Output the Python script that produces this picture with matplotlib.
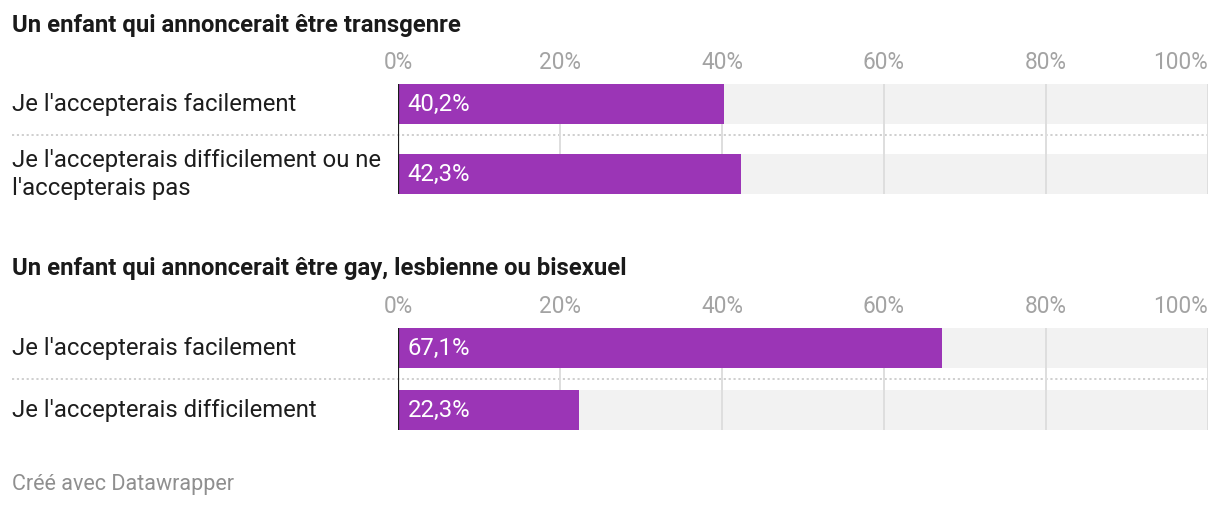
import matplotlib
matplotlib.use("Agg")
import matplotlib.pyplot as plt
from matplotlib.transforms import blended_transform_factory

plt.rcParams['font.family'] = ['Roboto', 'DejaVu Sans']

W, H = 1220, 506
DPI = 100

titles = ["Un enfant qui annoncerait être transgenre",
          "Un enfant qui annoncerait être gay, lesbienne ou bisexuel"]
categories = [
    ["Je l'accepterais facilement",
     "Je l'accepterais difficilement ou ne\nl'accepterais pas"],
    ["Je l'accepterais facilement",
     "Je l'accepterais difficilement"],
]
values = [[40.2, 42.3], [67.1, 22.3]]
value_labels = [["40,2%", "42,3%"], ["67,1%", "22,3%"]]
ticks = [0, 20, 40, 60, 80, 100]
tick_labels = ["0%", "20%", "40%", "60%", "80%", "100%"]
footer = "Créé avec Datawrapper"

PURPLE = "#9b35b6"
BG = "#f2f2f2"
GRID = "#dedede"
TICK = "#a3a3a3"
TEXT = "#1d1d1d"

fig = plt.figure(figsize=(W / DPI, H / DPI), dpi=DPI)
fig.patch.set_facecolor("white")

def px_axes(x0, y0, x1, y1):
    # y measured from top
    return fig.add_axes([x0 / W, 1 - y1 / H, (x1 - x0) / W, (y1 - y0) / H])

# panel geometry (pixels, top-origin)
panels = [dict(title_base=32, top=84.5, pitch=70),
          dict(title_base=275, top=328.5, pitch=62)]
BAR_H = 40
SEP_GAP = 11
X0, X1 = 398, 1208
LABEL_X = 12
FS = 17.2

for p, geo in enumerate(panels):
    n = len(values[p])
    pitch = geo["pitch"]
    top = geo["top"]
    bottom = top + (n - 1) * pitch + BAR_H
    ax = px_axes(X0, top, X1, bottom)
    half = (BAR_H / 2) / pitch
    ax.set_ylim((n - 1) + half, -half)
    ax.set_xlim(0, 100)
    ys = list(range(n))
    bh = BAR_H / pitch
    ax.barh(ys, [100] * n, height=bh, color=BG, zorder=1, linewidth=0)
    for t in ticks[1:]:
        ax.axvline(t, color=GRID, lw=1.4, zorder=2)
    ax.barh(ys, values[p], height=bh, color=PURPLE, zorder=3, linewidth=0)
    ax.axvline(0, color="#1a1a1a", lw=1.6, zorder=4)
    for sp in ax.spines.values():
        sp.set_visible(False)
    ax.set_yticks([])
    ax.xaxis.tick_top()
    ax.set_xticks(ticks)
    ax.set_xticklabels(tick_labels, color=TICK, fontsize=16.3)
    ax.tick_params(axis="x", length=0, pad=7.5)
    ax.get_xticklabels()[-1].set_ha("right")
    ax.set_facecolor("none")

    # value labels
    for i, (v, lab) in enumerate(zip(values[p], value_labels[p])):
        ax.text(1.2, i, lab, color="white", fontsize=FS, va="center",
                ha="left", zorder=5)

    # category labels
    tr = blended_transform_factory(fig.transFigure, ax.transData)
    for i, cat in enumerate(categories[p]):
        ax.text(LABEL_X / W, i, cat, transform=tr, color=TEXT, fontsize=FS,
                va="center", ha="left", linespacing=1.28, clip_on=False)
    # dotted separators (placed a fixed gap below each bar)
    for i in range(n - 1):
        sep = i + half + SEP_GAP / pitch
        ax.plot([LABEL_X / W, X1 / W], [sep, sep], transform=tr,
                color="#cccccc", lw=1.3, linestyle=(0, (1.2, 1.5)),
                clip_on=False, zorder=0)

    fig.text(LABEL_X / W, 1 - geo["title_base"] / H, titles[p], fontsize=17.2,
             fontweight="bold", color="#1a1a1a", va="baseline", ha="left")

fig.text(LABEL_X / W, 1 - 490 / H, footer, fontsize=15.5, color="#8f8f8f",
         va="baseline", ha="left")

fig.savefig("out.png", dpi=DPI, facecolor="white")
